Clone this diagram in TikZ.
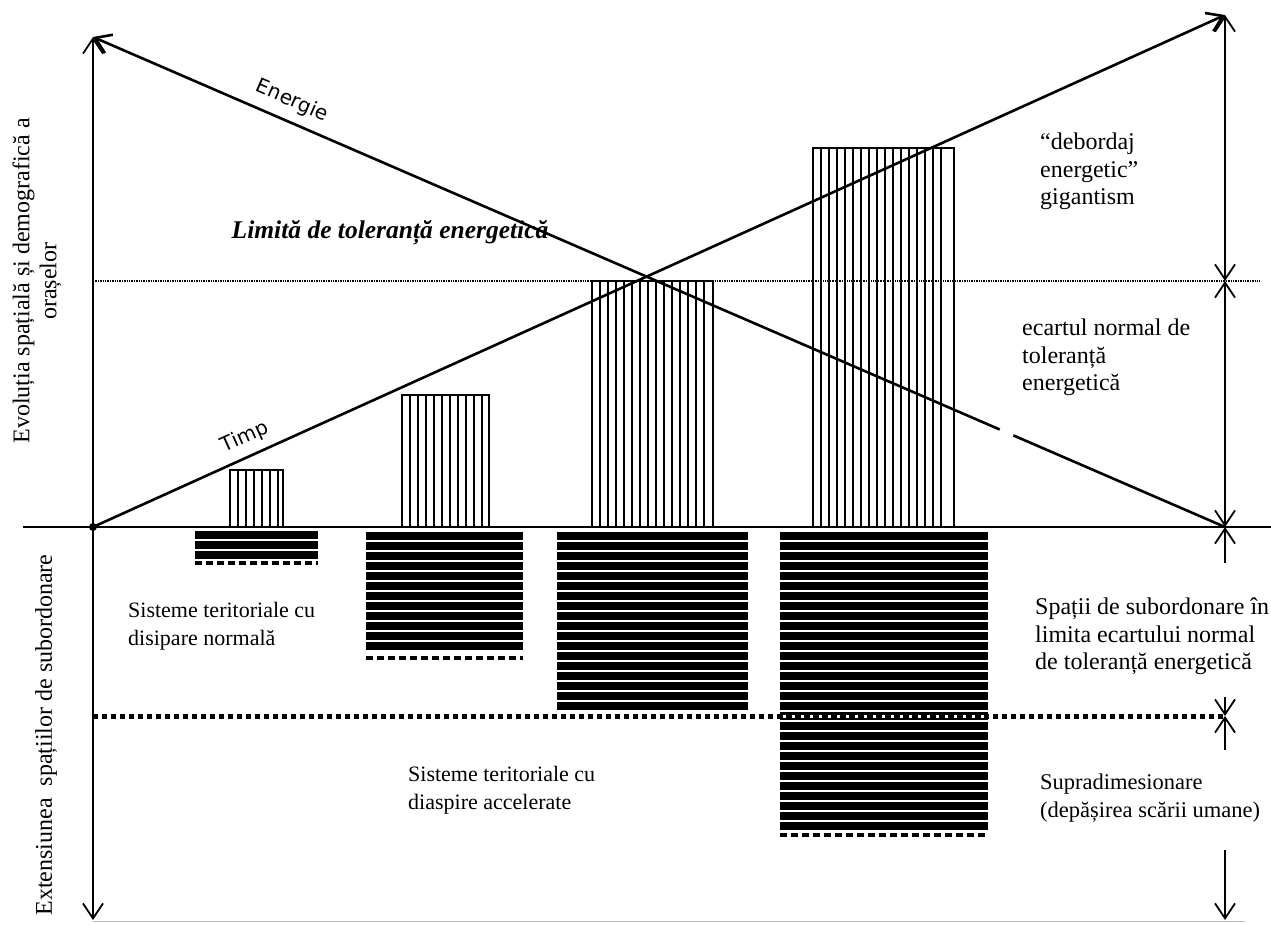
\documentclass[tikz,border=0pt]{standalone}
\usepackage{fontspec}
\setmainfont{Liberation Serif}
\newfontfamily\handfont{DejaVu Sans}
\usetikzlibrary{arrows.meta,calc}
\begin{document}
\begin{tikzpicture}[x=1pt,y=-1pt,
  >={Straight Barb[length=15pt,width=20pt]},
  axis/.style={line width=1.8pt},
  mainline/.style={line width=2.6pt},
  barframe/.style={line width=2.6pt},
  stripe/.style={line width=2.8pt},
  band/.style={line width=7.4pt},
  dashband/.style={line width=4pt, dash pattern=on 7pt off 4pt},
  bigdots/.style={line width=5pt, dash pattern=on 5pt off 4pt},
  whitedots/.style={white, line width=3pt, dash pattern=on 3pt off 6pt},
  finedots/.style={line width=2pt, dash pattern=on 1.4pt off 1pt},
  lbl/.style={font=\fontsize{24}{27.5}\selectfont, align=left, inner sep=0pt, anchor=north west},
  lowlbl/.style={font=\fontsize{22}{28}\selectfont, align=left, inner sep=0pt, anchor=north west},
  sidelbl/.style={font=\fontsize{24}{27}\selectfont, align=center, inner sep=0pt, rotate=90},
  linelbl/.style={font=\handfont\fontsize{20}{24}\selectfont, inner sep=0pt},
]
\useasboundingbox (0,0) rectangle (1271,924);

% key points
\coordinate (O) at (93,527);
\coordinate (Ytop) at (93,37);
\coordinate (Ybot) at (93,920);
\coordinate (Xl) at (23,527);
\coordinate (Xr) at (1271,527);
\coordinate (Rtop) at (1225,15);
\coordinate (R281) at (1225,281);
\coordinate (R527) at (1225,527);
\coordinate (R563) at (1225,563);
\coordinate (R697) at (1225,697);
\coordinate (R716) at (1225,716);
\coordinate (R750) at (1225,750);
\coordinate (R850) at (1225,850);
\coordinate (R920) at (1225,920);
\coordinate (Dl) at (93,281);
\coordinate (Dr) at (1260,281);
\coordinate (Bl) at (93,716);
\coordinate (Gl) at (93,921);
\coordinate (Gr) at (1245,921);

% thick dotted limit line
\draw[bigdots] (Bl) -- (R716);

% vertical hatched bars
\draw[barframe] (230,527) rectangle (283,470);
\foreach \x in {238,246,...,278} \draw[stripe] (\x,527) -- (\x,470);
\draw[barframe] (402,527) rectangle (489,395);
\foreach \x in {410,418,...,482} \draw[stripe] (\x,527) -- (\x,395);
\draw[barframe] (592,527) rectangle (713,281);
\foreach \x in {600,608,...,706} \draw[stripe] (\x,527) -- (\x,281);
\draw[barframe] (813,527) rectangle (954,148);
\foreach \x in {821,829,...,947} \draw[stripe] (\x,527) -- (\x,148);

% horizontal hatched blocks
\foreach \y in {535,545,555} \draw[band] (195,\y) -- (318,\y);
\draw[dashband] (195,563) -- (318,563);
\foreach \y in {536,546,...,646} \draw[band] (366,\y) -- (523,\y);
\draw[dashband] (366,658) -- (523,658);
\foreach \y in {536,546,...,706} \draw[band] (557,\y) -- (748,\y);
\foreach \y in {536,546,...,826} \draw[band] (780,\y) -- (988,\y);
\draw[dashband] (780,835) -- (988,835);
\draw[whitedots] (783,716) -- (985,716);

% fine dotted tolerance line
\draw[finedots] (Dl) -- (Dr);

% axes
\draw[line width=2.4pt] (Xl) -- (Xr);
\draw[axis,->] (O) -- (Ytop);
\draw[axis,->] (O) -- (Ybot);
\fill (O) circle[radius=4pt];
\draw[gray!55, line width=0.9pt] (Gl) -- (Gr);

% Energie and Timp lines
\draw[mainline] (R527) -- ($(R527)!0.187!(Ytop)$);
\draw[mainline,->] ($(R527)!0.199!(Ytop)$) -- (Ytop);
\draw[mainline,->] (O) -- (Rtop);

% right dimension arrows
\draw[axis,<->] (Rtop) -- (R281);
\draw[axis,<->] (R281) -- (R527);
\draw[axis,->] (R563) -- (R527);
\draw[axis,->] (R697) -- (R716);
\draw[axis,->] (R750) -- (R716);
\draw[axis,->] (R850) -- (R920);

% line labels
\node[linelbl, rotate=-23.4] (energie) at (292,101) {Energie};
\node[linelbl, rotate=24.3] (timp) at (245,437) {Timp};
\node[font=\fontsize{25.5}{28}\selectfont\bfseries\itshape, inner sep=0pt] (limita) at (390,233) {Limită de toleranță energetică};

% right labels
\node[lbl] (debordaj) at (1040,133) {“debordaj\\energetic”\\gigantism};
\node[lbl] (ecart) at (1022,319) {ecartul normal de\\toleranță\\energetică};
\node[lbl] (spatii) at (1035,598) {Spații de subordonare în\\limita ecartului normal\\de toleranță energetică};
\node[lbl, font=\fontsize{22.5}{28}\selectfont] (supra) at (1040,774) {Supradimesionare\\(depășirea scării umane)};

% lower labels
\node[lowlbl] (disnorm) at (128,602) {Sisteme teritoriale cu\\disipare normală};
\node[lowlbl] (disacc) at (408,766) {Sisteme teritoriale cu\\diaspire accelerate};

% axis titles
\node[sidelbl] (evol) at (37,281) {Evoluția spațială și demografică a\\orașelor};
\node[sidelbl] (ext) at (46,735) {Extensiunea\ \ spațiilor de subordonare};
\end{tikzpicture}
\end{document}
